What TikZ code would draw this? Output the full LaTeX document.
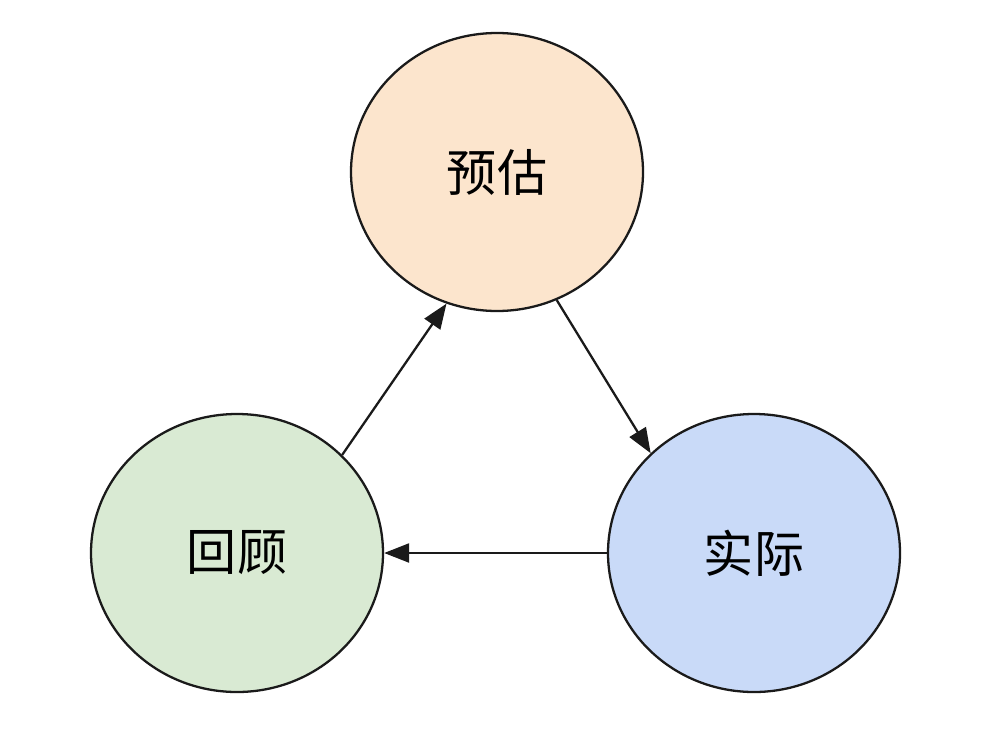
\documentclass[tikz,border=0pt]{standalone}
\usepackage{fontspec}
\usepackage{tikz}
\usetikzlibrary{positioning, shapes.geometric, arrows.meta}
\newfontfamily\cjk{Noto Sans CJK SC}
\definecolor{lineColor}{RGB}{26,26,26}
\definecolor{estimateColor}{HTML}{FCE5CD}
\definecolor{reviewColor}{HTML}{D9EAD3}
\definecolor{actualColor}{HTML}{C9DAF8}
\tikzstyle{stageStyle} = [ellipse, draw=lineColor, line width=1.3pt, minimum width=5.84cm, minimum height=5.56cm, inner sep=0pt, font=\cjk\fontsize{28.5}{32}\selectfont]
\tikzstyle{cycleArrow} = [draw=lineColor, line width=1.3pt, -{Triangle[length=0.5cm, width=0.38cm]}]

\begin{document}
\begin{tikzpicture}
  \useasboundingbox (0,0) rectangle (19.84,-14.84);
  \node [stageStyle, fill=estimateColor] (estimate) at (9.94,-3.44) {预估};
  \node [stageStyle, fill=reviewColor] (review) at (4.74,-11.06) {回顾};
  \node [stageStyle, fill=actualColor] (actual) at (15.08,-11.06) {实际};

  \draw [cycleArrow] (review.43) -- (estimate.249);
  \draw [cycleArrow] (estimate.295) -- (actual.136);
  \draw [cycleArrow] (actual.west) -- (review.east);
\end{tikzpicture}
\end{document}
